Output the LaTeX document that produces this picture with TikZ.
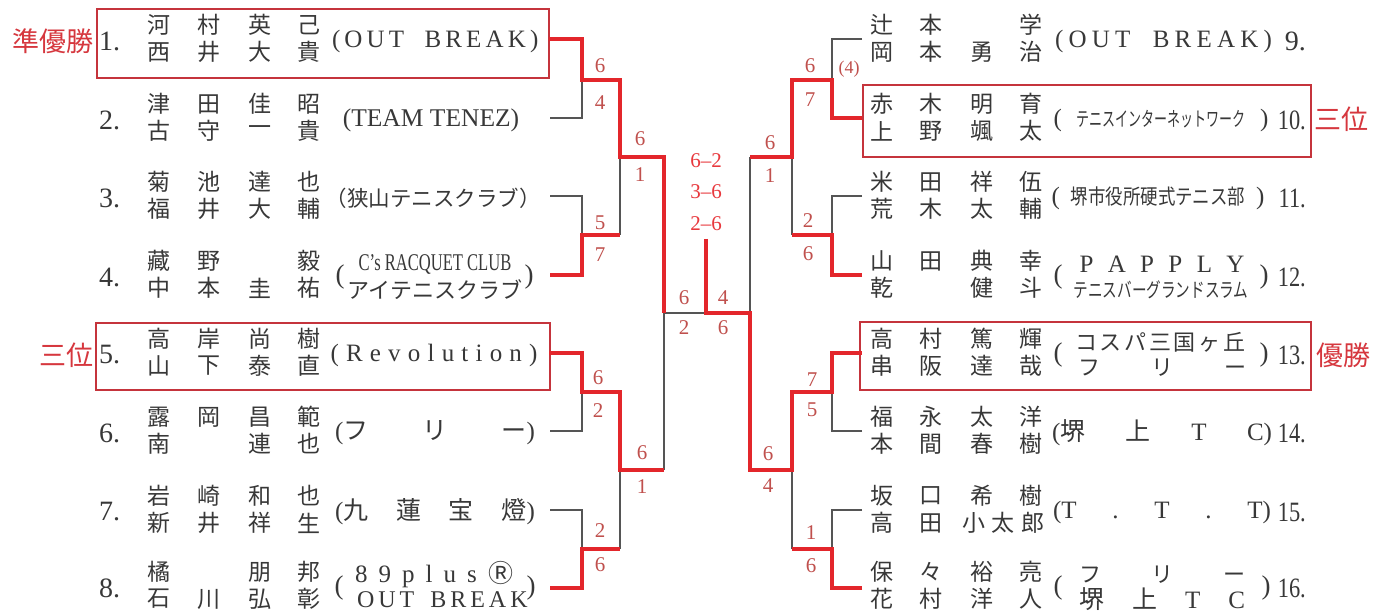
\documentclass[tikz,border=0pt]{standalone}
\usepackage{fontspec}
\setmainfont{Liberation Serif}
\newfontfamily\jp{Noto Sans CJK JP}
\usepackage{graphicx}
\definecolor{lred}{HTML}{E3262B}
\definecolor{bred}{HTML}{C5343C}
\definecolor{sred}{HTML}{C0504D}
\definecolor{tred}{HTML}{D6373E}
\definecolor{cred}{HTML}{E8383D}
\definecolor{lgray}{HTML}{555555}
\definecolor{txt}{HTML}{383838}
\newcommand\fs[1]{\fontsize{#1}{#1}\selectfont}
\begin{document}
\begin{tikzpicture}[x=1pt,y=-1pt,
  win/.style={draw=lred,line width=3.6pt,line join=miter},
  lose/.style={draw=lgray,line width=1.1pt},
  nm/.style={font=\jp\fs{23},text=txt,inner sep=0pt},
  num/.style={font=\fs{28},text=txt,inner sep=0pt},
  cl/.style={text=txt,inner sep=0pt,font=\fs{25}},
  sc/.style={text=sred,inner sep=0pt,font=\fs{21}},
  box/.style={draw=bred,line width=2.4pt,inner sep=0pt},
  lab/.style={text=tred,inner sep=0pt,font=\jp\fs{27}}]
\useasboundingbox[fill=white] (0,0) rectangle (1388,612);

% ---------- boxes ----------
\node[box,minimum width=452pt,minimum height=69pt] (B1) at (323,43.5) {};
\node[box,minimum width=454pt,minimum height=67pt] (B5) at (323,356.5) {};
\node[box,minimum width=448pt,minimum height=72pt] (B10) at (1087,121) {};
\node[box,minimum width=451pt,minimum height=68pt] (B13) at (1085.5,356) {};

% ---------- labels ----------
\node[lab,anchor=east] (W2) at (94,41) {準優勝};
\node[lab,anchor=east] (W3a) at (94,355) {三位};
\node[lab,anchor=west] (W3b) at (1314,119) {三位};
\node[lab,anchor=west] (W1) at (1316,355) {優勝};

% ---------- left players ----------
\foreach \i/\y/\qa/\qb/\qc/\qd/\qe/\qf/\qg/\qh in {
1/39/河/村/英/己/西/井/大/貴,
2/118/津/田/佳/昭/古/守/一/貴,
3/196/菊/池/達/也/福/井/大/輔,
4/275/藏/野/{}/毅/中/本/圭/祐,
5/353/高/岸/尚/樹/山/下/泰/直,
6/431/露/岡/昌/範/南/{}/連/也,
7/510/岩/崎/和/也/新/井/祥/生,
8/586/橘/{}/朋/邦/石/川/弘/彰}{
  \node[nm] (L\i-1) at (159,\y-14) {\qa};
  \node[nm] (L\i-2) at (209,\y-14) {\qb};
  \node[nm] (L\i-3) at (260,\y-14) {\qc};
  \node[nm] (L\i-4) at (309,\y-14) {\qd};
  \node[nm] (L\i-5) at (159,\y+13) {\qe};
  \node[nm] (L\i-6) at (209,\y+13) {\qf};
  \node[nm] (L\i-7) at (260,\y+13) {\qg};
  \node[nm] (L\i-8) at (309,\y+13) {\qh};
  \node[num,anchor=west] (N\i) at (99,\y+2) {\i.};
}

% ---------- right players ----------
\foreach \i/\y/\qa/\qb/\qc/\qd/\qe/\qf/\qg/\qh in {
9/39/辻/本/{}/学/岡/本/勇/治,
10/118/赤/木/明/育/上/野/颯/太,
11/196/米/田/祥/伍/荒/木/太/輔,
12/275/山/田/典/幸/乾/{}/健/斗,
13/353/高/村/篤/輝/串/阪/達/哉,
14/431/福/永/太/洋/本/間/春/樹,
15/510/坂/口/希/樹/高/田/{}/{},
16/586/保/々/裕/亮/花/村/洋/人}{
  \node[nm] (R\i-1) at (882,\y-14) {\qa};
  \node[nm] (R\i-2) at (931,\y-14) {\qb};
  \node[nm] (R\i-3) at (982,\y-14) {\qc};
  \node[nm] (R\i-4) at (1031,\y-14) {\qd};
  \node[nm] (R\i-5) at (882,\y+13) {\qe};
  \node[nm] (R\i-6) at (931,\y+13) {\qf};
  \node[nm] (R\i-7) at (982,\y+13) {\qg};
  \node[nm] (R\i-8) at (1031,\y+13) {\qh};
}
\node[nm] (R15-x) at (1003,523) {\makebox[82pt]{小\hfill 太\hfill 郎}};
\node[num,anchor=east] (N9) at (1306,41) {9.};
\foreach \i/\y in {10/120,11/198,12/277,13/355,14/433,15/512,16/588}{
  \node[num,anchor=east] (N\i) at (1306,\y) {\scalebox{0.8}[1]{\i.}};
}

% ---------- clubs (left) ----------
\node[cl] (C1) at (434.5,41) {\makebox[205pt][s]{( O U T \hspace{12pt} B R E A K )}};
\node[cl,font=\fs{25.5}] (C2) at (431,120) {(TEAM TENEZ)};
\node[cl,font=\jp\fs{21.5}] (C3) at (433,198) {（狭山テニスクラブ）};
\node[cl,font=\fs{27}] (C4l) at (340,277) {(};
\node[cl,font=\fs{27}] (C4r) at (529,277) {)};
\node[cl,font=\fs{24}] (C4a) at (435,264) {\scalebox{0.69}[1]{C’s RACQUET CLUB}};
\node[cl,font=\jp\fs{22}] (C4b) at (435,290) {アイテニスクラブ};
\node[cl] (C5) at (434,355) {\makebox[207pt][s]{( R e v o l u t i o n )}};
\node[cl] (C6) at (435,433) {\makebox[200pt]{({\jp フ}\hfill{\jp リ}\hfill{\jp ー})}};
\node[cl] (C7) at (435,512) {\makebox[200pt]{({\jp 九}\hfill{\jp 蓮}\hfill{\jp 宝}\hfill{\jp 燈})}};
\node[cl,font=\fs{27}] (C8l) at (339,588) {(};
\node[cl,font=\fs{27}] (C8r) at (531,588) {)};
\node[cl] (C8a) at (434,575) {\makebox[158pt][s]{8 9 p l u s {\jp Ⓡ}}};
\node[cl,font=\fs{24}] (C8b) at (434,600) {\makebox[154pt][s]{O U T \hspace{8pt} B R E A K}};

% ---------- clubs (right) ----------
\node[cl] (C9) at (1163.5,41) {\makebox[217pt][s]{( O U T \hspace{12pt} B R E A K )}};
\node[cl] (C10) at (1161,120) {\makebox[215pt]{(\hfill{\jp\fs{20}\scalebox{0.65}[1]{テニスインターネットワーク}}\hfill)}};
\node[cl] (C11) at (1158,198) {\makebox[213pt]{(\hfill{\jp\fs{21}\scalebox{0.83}[1]{堺市役所硬式テニス部}}\hfill)}};
\node[cl,font=\fs{27}] (C12l) at (1058,277) {(};
\node[cl,font=\fs{27}] (C12r) at (1264,277) {)};
\node[cl] (C12a) at (1162,264) {\makebox[165pt][s]{P A P P L Y}};
\node[cl,font=\jp\fs{20}] (C12b) at (1161,290) {\scalebox{0.73}[1]{テニスバーグランドスラム}};
\node[cl,font=\fs{27}] (C13l) at (1058,355) {(};
\node[cl,font=\fs{27}] (C13r) at (1264,355) {)};
\node[cl,font=\jp\fs{22}] (C13a) at (1160,342) {\makebox[170pt]{コ\hfill ス\hfill パ\hfill 三\hfill 国\hfill ヶ\hfill 丘}};
\node[cl,font=\jp\fs{22}] (C13b) at (1162,368) {\makebox[168pt]{フ\hfill リ\hfill ー}};
\node[cl] (C14) at (1162,433) {\makebox[220pt]{({\jp 堺}\hfill{\jp 上}\hfill T\hfill C)}};
\node[cl] (C15) at (1162,512) {\makebox[218pt]{(T\hfill .\hfill T\hfill .\hfill T)}};
\node[cl,font=\fs{27}] (C16l) at (1058,588) {(};
\node[cl,font=\fs{27}] (C16r) at (1266,588) {)};
\node[cl,font=\jp\fs{22}] (C16a) at (1162,575) {\makebox[166pt]{フ\hfill リ\hfill ー}};
\node[cl] (C16b) at (1162,599) {\makebox[166pt]{{\jp 堺}\hfill{\jp 上}\hfill T\hfill C}};

% ---------- bracket coordinates ----------
\coordinate (e1) at (549,39);  \coordinate (e2) at (550,118);
\coordinate (e3) at (550,196); \coordinate (e4) at (550,275);
\coordinate (e5) at (549,353); \coordinate (e6) at (550,431);
\coordinate (e7) at (550,510); \coordinate (e8) at (550,588);
\coordinate (f9) at (862,39);   \coordinate (f10) at (862,118);
\coordinate (f11) at (862,196); \coordinate (f12) at (862,275);
\coordinate (f13) at (862,353); \coordinate (f14) at (862,431);
\coordinate (f15) at (862,510); \coordinate (f16) at (862,588);
\coordinate (ja) at (582,80);  \coordinate (jb) at (582,235);
\coordinate (jc) at (582,392); \coordinate (jd) at (582,549);
\coordinate (ka) at (620,157); \coordinate (kb) at (620,470);
\coordinate (lc) at (664,313);
\coordinate (ctr) at (706,313); \coordinate (ctop) at (706,239);
\coordinate (rl) at (750,313);
\coordinate (sa) at (792,157); \coordinate (sb) at (792,470);
\coordinate (ra) at (832,80);  \coordinate (rb) at (832,235);
\coordinate (rc) at (832,392); \coordinate (rd) at (832,549);

% ---------- losing lines ----------
\draw[lose] (e2) -| (ja);
\draw[lose] (e3) -| (jb);
\draw[lose] (e6) -| (jc);
\draw[lose] (e7) -| (jd);
\draw[lose] (ka |- jb) -- (ka);
\draw[lose] (kb |- jd) -- (kb);
\draw[lose] (lc |- kb) -- (lc) -- (ctr);
\draw[lose] (f9) -| (ra);
\draw[lose] (f11) -| (rb);
\draw[lose] (f14) -| (rc);
\draw[lose] (f15) -| (rd);
\draw[lose] (sa |- rb) -- (sa);
\draw[lose] (sb |- rd) -- (sb);
\draw[lose] (rl |- sa) -- (rl);

% ---------- winning lines ----------
\draw[win] (e1) -| (ja) -| (ka) -| (lc);
\draw[win] (e4) -| (jb) -- (ka |- jb);
\draw[win] (e5) -| (jc) -| (kb) -- (lc |- kb);
\draw[win] (e8) -| (jd) -- (kb |- jd);
\draw[win] (ctop) -- (ctr) -- (rl) |- (sb) |- (rc) |- (f13);
\draw[win] (f10) -| (ra) -| (sa) -- (rl |- sa);
\draw[win] (f12) -| (rb) -- (sa |- rb);
\draw[win] (f16) -| (rd) -- (sb |- rd);

% ---------- scores ----------
\foreach \n/\x/\y/\t in {
a/600/66/6, b/600/103/4, c/640/139/6, d/640/175/1,
e/600/223/5, f/600/255/7, g/684/298/6, h/684/328/2,
i/598/378/6, j/598/411/2, k/642/453/6, l/642/487/1,
m/600/531/2, n/600/565/6, o/723/298/4, p/723/328/6,
q/810/66/6, r/810/100/7, s/770/143/6, t/770/176/1,
u/808/221/2, v/808/254/6, w/812/380/7, x/812/410/5,
y/768/454/6, z/768/486/4, A/811/533/1, B/811/566/6}{
  \node[sc] (S\n) at (\x,\y) {\t};
}
\node[sc,font=\fs{18}] (S4) at (849,69) {(4)};
\node[sc,text=cred] (F1) at (706,161) {6--2};
\node[sc,text=cred] (F2) at (706,192) {3--6};
\node[sc,text=cred] (F3) at (706,224) {2--6};
\end{tikzpicture}
\end{document}
